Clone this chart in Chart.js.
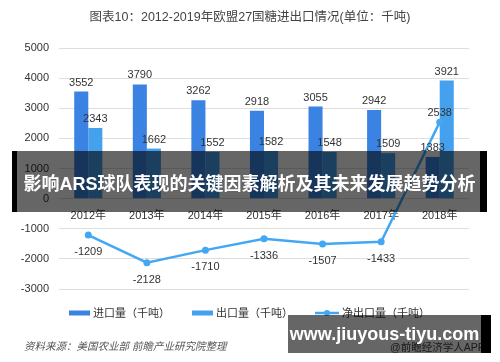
<!DOCTYPE html>
<html lang="zh-CN">

<head>
  <meta charset="UTF-8">
  <meta name="viewport" content="width=device-width, initial-scale=1.0">
  <title>欧盟27国糖进出口情况</title>
  <script src="https://cdn.jsdelivr.net/npm/chart.js@4.4.1/dist/chart.umd.min.js"></script>
  <style>
    body {
      margin: 0;
      background: #fff;
      font-family: "Liberation Sans", "Noto Sans CJK SC", sans-serif;
    }
    .wrap {
      position: relative;
      width: 500px;
      height: 362px;
      overflow: hidden;
    }
    .title {
      position: absolute;
      left: 0;
      top: 6px;
      width: 500px;
      text-align: center;
      font-size: 12.5px;
      color: #444;
    }
    .source {
      position: absolute;
      left: 24px;
      top: 338px;
      font-size: 10.5px;
      font-style: italic;
      color: #555;
    }
    .app {
      position: absolute;
      left: 390px;
      top: 339px;
      font-size: 10.5px;
      color: #444;
    }
    .banner {
      position: absolute;
      background: rgba(0, 0, 0, 0.6);
    }
    .edge {
      position: absolute;
      background: #000;
    }
    .btext {
      position: absolute;
      color: #fff;
      font-weight: bold;
      display: flex;
      align-items: center;
      justify-content: center;
      white-space: nowrap;
    }
  </style>
</head>

<body>
  <div class="wrap">
    <canvas id="plot" width="500" height="362"></canvas>
    <div class="title">图表10：2012-2019年欧盟27国糖进出口情况(单位：千吨)</div>
    <div class="source">资料来源：美国农业部 前瞻产业研究院整理</div>
    <div class="app">@前瞻经济学人APP</div>

    <div class="banner" style="left:17px;top:151px;width:463px;height:61px;"></div>
    <div class="edge" style="left:12px;top:151px;width:5px;height:61px;"></div>
    <div class="edge" style="left:480px;top:151px;width:7px;height:61px;"></div>
    <div class="btext" style="left:12px;top:151px;width:475px;height:61px;font-size:18px;">影响ARS球队表现的关键因素解析及其未来发展趋势分析</div>

    <div class="banner" style="left:288px;top:315px;width:193px;height:38px;"></div>
    <div class="edge" style="left:481px;top:315px;width:10px;height:38px;"></div>
    <div class="btext" style="left:288px;top:315px;width:193px;height:38px;font-size:18px;">www.jiuyous-tiyu.com</div>
  </div>

  <script>
    const years = ['2012年', '2013年', '2014年', '2015年', '2016年', '2017年', '2018年'];
    const imports = [3552, 3790, 3262, 2918, 3055, 2942, 1383];
    const exports = [2343, 1662, 1552, 1582, 1548, 1509, 3921];
    const netExports = [-1209, -2128, -1710, -1336, -1507, -1433, 2538];
    const seriesNames = ['进口量（千吨）', '出口量（千吨）', '净出口量（千吨）'];

    const importColor = '#3b83e3';
    const exportColor = '#45a1ee';
    const netColor = '#42a8f4';
    const textColor = '#333';
    const labelFont = '11px "Liberation Sans", "Noto Sans CJK SC", sans-serif';

    // value labels on bars and points
    const valueLabels = {
      id: 'valueLabels',
      afterDatasetsDraw(chart) {
        const ctx = chart.ctx;
        ctx.save();
        ctx.font = labelFont;
        ctx.fillStyle = textColor;
        ctx.textAlign = 'center';
        chart.data.datasets.forEach((ds, di) => {
          const meta = chart.getDatasetMeta(di);
          meta.data.forEach((el, i) => {
            const v = ds.data[i];
            let y;
            if (ds.type === 'line') {
              y = v < 0 ? el.y + 20 : el.y - 6;
            } else {
              y = el.y - 6;
            }
            ctx.fillText(String(v), el.x, y);
          });
        });
        ctx.restore();
      }
    };

    // legend drawn under the plot
    const bottomLegend = {
      id: 'bottomLegend',
      afterDraw(chart) {
        const ctx = chart.ctx;
        ctx.save();
        ctx.font = labelFont;
        const sw = 21, gap = 3, space = 22;
        const widths = seriesNames.map(n => ctx.measureText(n).width);
        const total = widths.reduce((a, w) => a + sw + gap + w, 0) + space * (seriesNames.length - 1);
        let x = 248 - total / 2;
        const y = 313;
        chart.data.datasets.forEach((ds, di) => {
          if (ds.type === 'line') {
            ctx.strokeStyle = ds.borderColor;
            ctx.lineWidth = 2.5;
            ctx.beginPath();
            ctx.moveTo(x, y);
            ctx.lineTo(x + sw + 3, y);
            ctx.stroke();
            ctx.fillStyle = ds.borderColor;
            ctx.beginPath();
            ctx.arc(x + (sw + 3) / 2, y, 3, 0, Math.PI * 2);
            ctx.fill();
          } else {
            ctx.fillStyle = ds.backgroundColor;
            ctx.fillRect(x, y - 2.5, sw, 5);
          }
          x += sw + gap + (ds.type === 'line' ? 3 : 0);
          ctx.fillStyle = textColor;
          ctx.textBaseline = 'middle';
          ctx.fillText(ds.label, x, y + 1);
          x += widths[di] + space;
        });
        ctx.restore();
      }
    };

    const plot = new Chart(document.getElementById('plot'), {
      data: {
        labels: years,
        datasets: [{
          type: 'bar',
          label: seriesNames[0],
          data: imports,
          backgroundColor: importColor,
          categoryPercentage: 0.48,
          barPercentage: 1,
          order: 1
        }, {
          type: 'bar',
          label: seriesNames[1],
          data: exports,
          backgroundColor: exportColor,
          categoryPercentage: 0.48,
          barPercentage: 1,
          order: 1
        }, {
          type: 'line',
          label: seriesNames[2],
          data: netExports,
          borderColor: netColor,
          backgroundColor: netColor,
          borderWidth: 2.5,
          pointRadius: 3.5,
          pointBackgroundColor: netColor,
          pointBorderWidth: 0,
          tension: 0,
          order: 0
        }]
      },
      options: {
        responsive: false,
        animation: false,
        layout: {
          padding: { left: 0, right: 31, top: 48, bottom: 73 }
        },
        plugins: {
          legend: { display: false },
          tooltip: { enabled: false }
        },
        scales: {
          x: {
            position: { y: 0 },
            grid: { display: false },
            border: { display: false },
            ticks: {
              color: textColor,
              font: { size: 11, family: '"Liberation Sans", "Noto Sans CJK SC", sans-serif' },
              padding: 3,
              maxRotation: 0
            },
            afterFit(s) { s.height = 0; }
          },
          y: {
            min: -3000,
            max: 5000,
            ticks: {
              stepSize: 1000,
              color: textColor,
              font: { size: 11, family: '"Liberation Sans", sans-serif' },
              padding: 10,
              callback: v => String(v)
            },
            grid: { color: '#dedede', drawTicks: false },
            border: { display: false },
            afterFit(s) { s.width = 59; }
          }
        }
      },
      plugins: [valueLabels, bottomLegend]
    });
  </script>
</body>

</html>
